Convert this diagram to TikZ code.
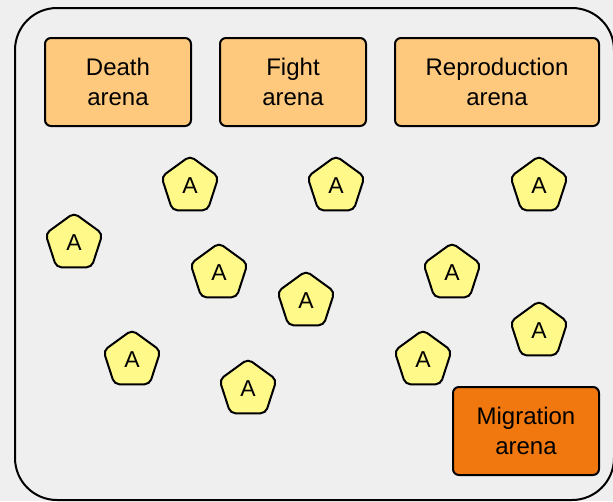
\documentclass[tikz,border=0pt]{standalone}
\usepackage{fontspec}
\setmainfont{Liberation Sans}
\usetikzlibrary{positioning,shapes.geometric}

\definecolor{bgray}{HTML}{EFEFEF}
\definecolor{arenalight}{HTML}{FFC97D}
\definecolor{arenadark}{HTML}{F0780E}
\definecolor{agentyellow}{HTML}{FFF98A}

\begin{document}
\begin{tikzpicture}[x=1pt, y=-1pt]
    \tikzset{
      arena/.style={draw, line width=2pt, rounded corners=6pt, fill=arenalight,
        minimum width=146pt, minimum height=88pt, align=center,
        font=\fontsize{24}{30.5}\selectfont},
      agent/.style={draw, line width=2pt, regular polygon, regular polygon sides=5,
        minimum size=60pt, inner sep=0pt, rounded corners=5pt, fill=agentyellow,
        font=\fontsize{23}{28}\selectfont},
    }
    \useasboundingbox [fill=bgray] (0,0) rectangle (613,501);
    % world box, runs off the right and bottom edge
    \draw [line width=2pt, rounded corners=42pt, fill=bgray] (15,8) rectangle (614,500);

    \node [arena, anchor=north west] (death) at (44,37) {Death\\arena};
    \node [arena, right=27pt of death] (fight) {Fight\\arena};
    \node [arena, right=27pt of fight, minimum width=204pt] (repro) {Reproduction\\arena};
    \node [arena, fill=arenadark, anchor=north west] (migration) at (452,386) {Migration\\arena};

    \node [agent] (a1) at (190,186) {A};
    \node [agent] (a2) at (336,186) {A};
    \node [agent] (a3) at (539,186) {A};
    \node [agent] (a4) at (74,243) {A};
    \node [agent] (a5) at (219,273) {A};
    \node [agent] (a6) at (452,273) {A};
    \node [agent] (a7) at (306,301) {A};
    \node [agent] (a8) at (539,331) {A};
    \node [agent] (a9) at (132,360) {A};
    \node [agent] (a10) at (423,360) {A};
    \node [agent] (a11) at (248,389) {A};

  \end{tikzpicture}
\end{document}
